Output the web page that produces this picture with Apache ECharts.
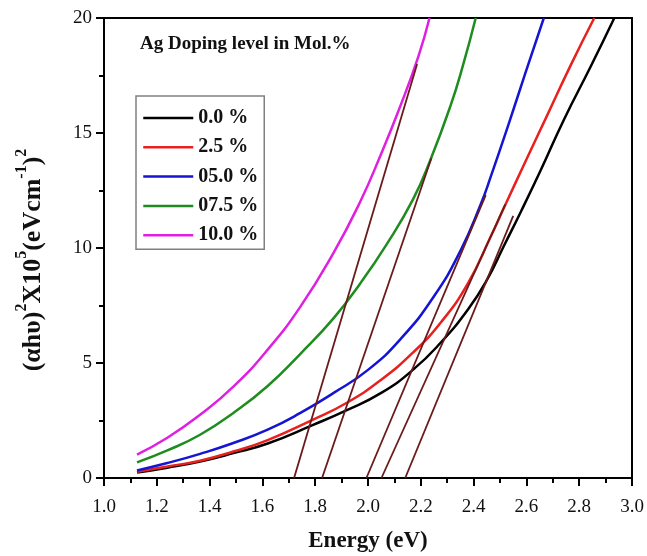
<!DOCTYPE html>
<html>
<head>
<meta charset="utf-8">
<script src="https://cdn.jsdelivr.net/npm/echarts@6/dist/echarts.min.js"></script>
<style>
html,body{margin:0;padding:0;background:#fff;}
#chart{width:647px;height:556px;}
</style>
</head>
<body>
<div id="chart"></div>
<script>
// ---- data ----
var seriesNames = ['0.0 %', '2.5 %', '05.0 %', '07.5 %', '10.0 %'];
var seriesColors = ['#000000', '#e8201e', '#1414d2', '#1e8c1e', '#e020e0'];

var x00 = [1.125, 1.24, 1.364, 1.49, 1.62, 1.79, 1.92, 2.05, 2.17, 2.275, 2.378, 2.45, 2.515, 2.58, 2.655, 2.743, 2.844, 2.933];
var y00 = [0.24, 0.45, 0.72, 1.08, 1.50, 2.30, 2.95, 3.70, 4.70, 5.88, 7.32, 8.60, 10.1, 11.6, 13.4, 15.6, 17.9, 20.0];

var x25 = [1.125, 1.24, 1.364, 1.49, 1.62, 1.79, 1.92, 2.05, 2.17, 2.275, 2.378, 2.465, 2.515, 2.592, 2.68, 2.768, 2.857];
var y25 = [0.27, 0.50, 0.75, 1.15, 1.65, 2.53, 3.27, 4.27, 5.45, 6.75, 8.45, 10.5, 11.75, 13.65, 15.8, 17.95, 20.0];

var x50 = [1.125, 1.24, 1.364, 1.49, 1.62, 1.744, 1.87, 2.0, 2.124, 2.25, 2.351, 2.427, 2.465, 2.533, 2.596, 2.666];
var y50 = [0.33, 0.65, 1.05, 1.52, 2.10, 2.83, 3.70, 4.70, 6.05, 7.90, 9.90, 11.9, 13.1, 15.4, 17.6, 20.0];

var x75 = [1.125, 1.24, 1.364, 1.49, 1.62, 1.744, 1.87, 1.97, 2.07, 2.17, 2.237, 2.313, 2.36, 2.408];
var y75 = [0.68, 1.20, 1.88, 2.83, 4.00, 5.40, 6.95, 8.45, 10.15, 12.1, 13.85, 16.2, 17.95, 20.0];

var x100 = [1.125, 1.24, 1.364, 1.49, 1.62, 1.744, 1.87, 1.97, 2.05, 2.12, 2.19, 2.233];
var y100 = [1.02, 1.75, 2.75, 3.97, 5.58, 7.45, 9.80, 12.0, 14.1, 16.1, 18.3, 20.0];

// linear-fit (Tauc) lines: x at y=0, x at top, y at top
var fitStartX = [1.72, 1.826, 1.994, 2.051, 2.141];
var fitEndX = [2.186, 2.24, 2.446, 2.52, 2.55];
var fitEndY = [18.0, 13.9, 12.3, 11.9, 11.4];
var fitColor = '#6a1a1a';

var xTicks = { min: 1.0, max: 3.0, interval: 0.2 };
var yTicks = { min: 0, max: 20, interval: 5 };

var annotation = 'Ag Doping level in Mol.%';
var xTitle = 'Energy (eV)';

// ---- build ----
function pairs(xs, ys) { return xs.map(function (v, i) { return [v, ys[i]]; }); }
var xsAll = [x00, x25, x50, x75, x100];
var ysAll = [y00, y25, y50, y75, y100];

var FONT = "'Liberation Serif','Times New Roman',serif";
var series = [];
for (var i = 0; i < 5; i++) {
  series.push({
    name: seriesNames[i], type: 'line', smooth: 0.5, symbol: 'none',
    data: pairs(xsAll[i], ysAll[i]),
    lineStyle: { color: seriesColors[i], width: 2.5 },
    itemStyle: { color: seriesColors[i] },
    z: 2
  });
}
for (var j = 0; j < 5; j++) {
  series.push({
    name: 'fit' + j, type: 'line', symbol: 'none', silent: true,
    data: [[fitStartX[j], 0], [fitEndX[j], fitEndY[j]]],
    lineStyle: { color: fitColor, width: 1.8 },
    z: 3
  });
}

var chart = echarts.init(document.getElementById('chart'), null, { renderer: 'canvas' });
chart.setOption({
  animation: false,
  backgroundColor: '#fff',
  grid: { left: 104, right: 15, top: 18, bottom: 78, outerBoundsMode: 'none', containLabel: false,
          show: true, borderColor: '#000', borderWidth: 2, backgroundColor: 'transparent' },
  xAxis: {
    type: 'value', min: xTicks.min, max: xTicks.max, interval: xTicks.interval,
    axisLine: { lineStyle: { color: '#000', width: 2 } },
    axisTick: { inside: false, length: 8, lineStyle: { color: '#000', width: 2 } },
    minorTick: { show: true, splitNumber: 2, length: 5, lineStyle: { color: '#000', width: 2 } },
    splitLine: { show: false },
    axisLabel: { color: '#111', fontFamily: FONT, fontSize: 19, margin: 20, formatter: function (v) { return v.toFixed(1); } },
    name: xTitle, nameLocation: 'middle', nameGap: 52,
    nameTextStyle: { color: '#111', fontFamily: FONT, fontSize: 23, fontWeight: 'bold' }
  },
  yAxis: {
    type: 'value', min: yTicks.min, max: yTicks.max, interval: yTicks.interval,
    axisLine: { lineStyle: { color: '#000', width: 2 } },
    axisTick: { inside: false, length: 8, lineStyle: { color: '#000', width: 2 } },
    minorTick: { show: true, splitNumber: 2, length: 5, lineStyle: { color: '#000', width: 2 } },
    splitLine: { show: false },
    axisLabel: { color: '#111', fontFamily: FONT, fontSize: 19, margin: 12 }
  },
  legend: {
    data: seriesNames, orient: 'vertical', left: 136, top: 96,
    padding: [12, 6, 4, 6], itemGap: 9.3, itemWidth: 50, itemHeight: 14,
    borderColor: '#808080', borderWidth: 1.5, backgroundColor: '#fff',
    itemStyle: { opacity: 0 },
    lineStyle: { width: 2.5 },
    textStyle: { color: '#111', fontFamily: FONT, fontSize: 20, fontWeight: 'bold' }
  },
  graphic: [
    { type: 'text', left: 140, top: 35, z: 10,
      style: { text: annotation, fill: '#111', font: 'bold 19px ' + FONT } },
    { type: 'text', x: 30, y: 260, rotation: Math.PI / 2, z: 10,
      style: {
        text: '{m|(αhυ)}{s|2}{m|X10}{s|5}{m|(eVcm}{s|-1}{m|)}{s|2}',
        align: 'center', verticalAlign: 'middle', fill: '#111',
        rich: {
          m: { fontFamily: FONT, fontSize: 26, fontWeight: 'bold', fill: '#111', verticalAlign: 'bottom', lineHeight: 32 },
          s: { fontFamily: FONT, fontSize: 16, fontWeight: 'bold', fill: '#111', verticalAlign: 'top', lineHeight: 32 }
        }
      } }
  ],
  series: series
});
</script>
</body>
</html>
